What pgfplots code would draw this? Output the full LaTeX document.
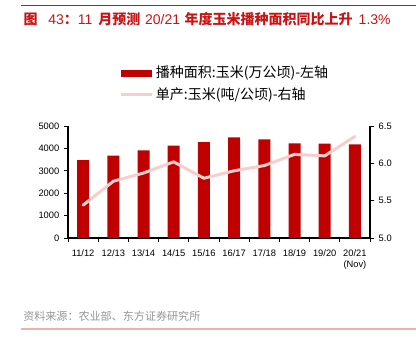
\documentclass[border=0pt]{standalone}
\usepackage{pgfplots}
\pgfplotsset{compat=1.18}
\usepackage{fontspec}
\setmainfont{Liberation Sans}
\newfontfamily\cjk{Noto Sans CJK SC}
\definecolor{barred}{RGB}{192,0,0}
\definecolor{linepink}{RGB}{248,205,205}
\definecolor{titlered}{RGB}{200,20,20}
\definecolor{srcgray}{RGB}{150,150,150}
\definecolor{botline}{RGB}{240,175,175}
\newcommand{\tc}[1]{{\cjk\bfseries\fontsize{10.5pt}{12pt}\selectfont #1}}
\newcommand{\tl}[1]{{\rmfamily\fontsize{10.5pt}{12pt}\selectfont #1}}
\begin{document}
\begin{tikzpicture}
\path[use as bounding box] (0pt,0pt) rectangle (312pt,252pt);
\draw[titlered, line width=0.75pt] (15.75pt,247.5pt) -- (312pt,247.5pt);
\node[anchor=west, text=titlered, inner sep=0] at (17.5pt,237.75pt) {\tc{图}\hspace{8pt}\tl{43}\tc{：}\tl{11}\hspace{4.5pt}\tc{月预测}\hspace{3.5pt}\tl{20/21}\hspace{3.5pt}\tc{年度玉米播种面积同比上升}\hspace{4.5pt}\tl{1.3\%}};
\node[anchor=west, text=srcgray, font=\cjk\fontsize{8.3pt}{10pt}\selectfont, inner sep=0] at (17.25pt,15pt) {资料来源：农业部、东方证券研究所};
\draw[botline, line width=1.3pt] (15.75pt,5.25pt) -- (312pt,5.25pt);

\begin{axis}[at={(51pt,73.5pt)}, anchor=south west, scale only axis,
  width=226.5pt, height=84pt,
  xmin=-0.5, xmax=9.5, ymin=0, ymax=5000,
  ytick={0,1000,...,5000},
  axis x line*=bottom, axis y line*=left,
  xtick={0,...,9},
  xticklabels={11/12,12/13,13/14,14/15,15/16,16/17,17/18,18/19,19/20,{20/21\\(Nov)}},
  xticklabel style={align=center, yshift=-2pt},
  major x tick style={draw=none},
  minor xtick={-0.5,0.5,...,9.5},
  tick align=outside, major tick length=3pt, minor tick length=3pt,
  tick style={black, line width=0.6pt},
  axis line style={black, line width=0.8pt},
  tick label style={font=\fontsize{7pt}{8.5pt}\selectfont},
  /pgf/number format/assume math mode=true,
  scaled y ticks=false,
  yticklabel style={/pgf/number format/1000 sep={}},
  legend style={at={(0.17,1.56)}, anchor=north west, draw=none, fill=none,
    font=\cjk\fontsize{10.5pt}{12pt}\selectfont, row sep=2pt, inner sep=0pt,
    cells={anchor=west}},
]
\addplot[ybar, bar width=9pt, fill=barred, draw=none,
  legend image code/.code={\fill[barred] (0pt,-2.6pt) rectangle (23pt,2.6pt);}]
  coordinates {(0,3480) (1,3675) (2,3915) (3,4120) (4,4285) (5,4495) (6,4405) (7,4225) (8,4210) (9,4180)};
\addlegendentry{播种面积:玉米(万公顷)-左轴}
\addlegendimage{legend image code/.code={\draw[linepink, line width=2.25pt] (0pt,0pt) -- (23pt,0pt);}}
\addlegendentry{单产:玉米(吨/公顷)-右轴}
\end{axis}

\begin{axis}[at={(51pt,73.5pt)}, anchor=south west, scale only axis,
  width=226.5pt, height=84pt,
  xmin=-0.5, xmax=9.5, ymin=5, ymax=6.5,
  ytick={5,5.5,6,6.5},
  axis x line=none, axis y line*=right,
  tick align=outside, major tick length=3pt,
  tick style={black, line width=0.6pt},
  axis line style={black, line width=0.8pt},
  tick label style={font=\fontsize{7pt}{8.5pt}\selectfont},
  /pgf/number format/assume math mode=true,
  yticklabel style={/pgf/number format/.cd, fixed, fixed zerofill, precision=1},
]
\addplot[linepink, line width=2.25pt, line join=round, line cap=round, mark=none]
  coordinates {(0,5.44) (1,5.76) (2,5.87) (3,6.02) (4,5.80) (5,5.90) (6,5.97) (7,6.12) (8,6.10) (9,6.36)};
\end{axis}
\end{tikzpicture}
\end{document}
